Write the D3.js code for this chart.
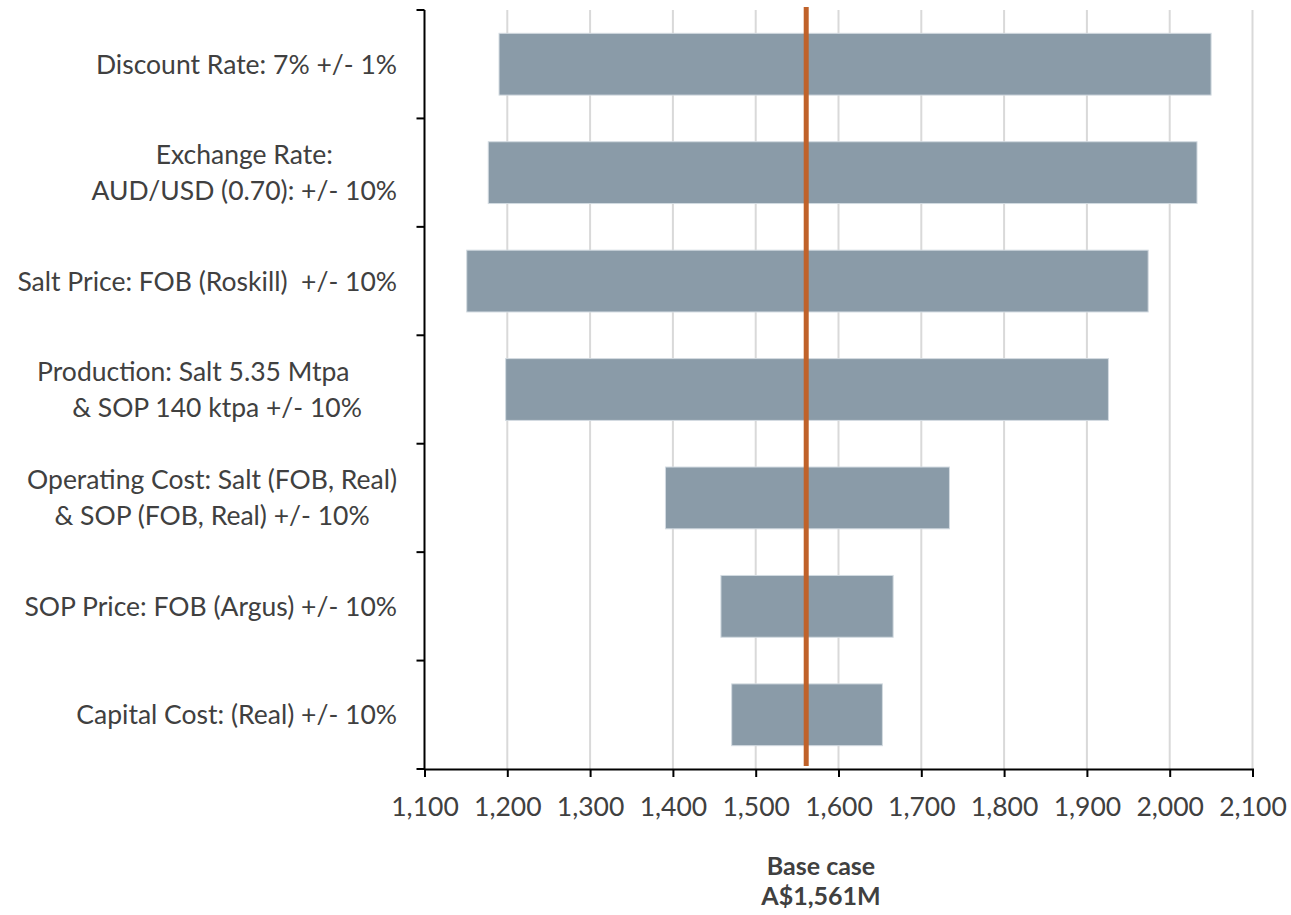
<!DOCTYPE html>
<html>
<head>
<meta charset="utf-8">
<script src="https://cdn.jsdelivr.net/npm/d3@7"></script>
<style>
  html, body { margin: 0; padding: 0; background: #fff; }
  svg { display: block; }
  text { font-family: Lato, "Open Sans", sans-serif; fill: #404040; }
</style>
</head>
<body>
<svg id="chart" width="1291" height="915"></svg>
<script>
// Sensitivity drivers, top to bottom (each entry is a list of label lines)
const categories = [
  ["Discount Rate: 7% +/- 1%"],
  ["Exchange Rate:", "AUD/USD (0.70): +/- 10%"],
  ["Salt Price: FOB (Roskill)  +/- 10%"],
  ["Production: Salt 5.35 Mtpa\u00a0\u00a0\u00a0\u00a0\u00a0\u00a0\u00a0", "& SOP 140 ktpa +/- 10%"],
  ["Operating Cost: Salt (FOB, Real)", "& SOP (FOB, Real) +/- 10%"],
  ["SOP Price: FOB (Argus) +/- 10%"],
  ["Capital Cost: (Real) +/- 10%"]
];
// NPV (A$M) at the low and high end of each driver range
const lowValues  = [1190, 1177, 1151, 1198, 1391, 1458, 1471];
const highValues = [2050, 2033, 1974, 1926, 1734, 1666, 1653];
const baseCase = 1561;
const xTicks = [1100, 1200, 1300, 1400, 1500, 1600, 1700, 1800, 1900, 2000, 2100];
const titleLines = ["Base case", "A$1,561M"];

const svg = d3.select("#chart");
const margin = { left: 424.5, right: 1252.5, top: 10, bottom: 769 };

const x = d3.scaleLinear().domain([1100, 2100]).range([margin.left, margin.right]);
const y = d3.scaleBand()
  .domain(d3.range(categories.length))
  .range([margin.top, margin.bottom])
  .paddingInner(0.43)
  .paddingOuter(0.215);

// vertical gridlines
svg.append("g")
  .selectAll("line")
  .data(xTicks.slice(1))
  .join("line")
  .attr("x1", d => x(d)).attr("x2", d => x(d))
  .attr("y1", margin.top).attr("y2", margin.bottom)
  .attr("stroke", "#d9d9d9")
  .attr("stroke-width", 2);

// range bars
const rows = categories.map((c, i) => ({ i, low: lowValues[i], high: highValues[i] }));
svg.append("g")
  .selectAll("rect")
  .data(rows)
  .join("rect")
  .attr("x", d => x(d.low))
  .attr("width", d => x(d.high) - x(d.low))
  .attr("y", d => y(d.i))
  .attr("height", y.bandwidth())
  .attr("fill", "#8a9ba8")
  .attr("stroke", "#d3dbe1")
  .attr("stroke-width", 1);

// base case marker
svg.append("line")
  .attr("x1", x(baseCase)).attr("x2", x(baseCase))
  .attr("y1", 7).attr("y2", margin.bottom - 3)
  .attr("stroke", "#c0622a")
  .attr("stroke-width", 5);

// x axis
const xAxis = svg.append("g")
  .attr("transform", `translate(0,${margin.bottom})`)
  .call(d3.axisBottom(x).tickValues(xTicks).tickSize(8).tickSizeOuter(8)
    .tickFormat(d3.format(",")));
xAxis.select(".domain").attr("stroke", "#000").attr("stroke-width", 2);
xAxis.selectAll(".tick line").attr("stroke", "#000").attr("stroke-width", 2);
xAxis.selectAll(".tick text")
  .attr("y", 47)
  .attr("dy", 0)
  .style("font-size", "26.5px")
  .style("fill", "#404040");

// y axis with ticks at category boundaries
const yAxisG = svg.append("g");
yAxisG.append("line")
  .attr("x1", margin.left).attr("x2", margin.left)
  .attr("y1", margin.top).attr("y2", margin.bottom)
  .attr("stroke", "#000").attr("stroke-width", 2);
yAxisG.selectAll("line.tk")
  .data(d3.range(categories.length + 1))
  .join("line")
  .attr("class", "tk")
  .attr("x1", margin.left - 8).attr("x2", margin.left)
  .attr("y1", i => margin.top + i * (margin.bottom - margin.top) / categories.length)
  .attr("y2", i => margin.top + i * (margin.bottom - margin.top) / categories.length)
  .attr("stroke", "#000").attr("stroke-width", 2);

// category labels: lines centred on each other, block right-aligned
const labelRight = 397;
const lineGap = 36;
const fontSize = 26.5;
const labels = svg.append("g");
rows.forEach(d => {
  const lines = categories[d.i];
  const g = labels.append("g");
  const cy = y(d.i) + y.bandwidth() / 2;
  const texts = lines.map((ln, k) =>
    g.append("text")
      .attr("xml:space", "preserve")
      .style("white-space", "pre")
      .style("font-size", fontSize + "px")
      .attr("y", cy + (k - (lines.length - 1) / 2) * lineGap + fontSize * 0.36)
      .text(ln));
  const maxW = d3.max(texts, t => t.node().getComputedTextLength());
  const cx = labelRight - maxW / 2;
  texts.forEach(t => t.attr("x", cx).attr("text-anchor", "middle"));
});

// base case caption
svg.append("g")
  .selectAll("text")
  .data(titleLines)
  .join("text")
  .attr("x", 821)
  .attr("y", (d, i) => 875 + i * 30)
  .attr("text-anchor", "middle")
  .style("font-size", "25px")
  .style("font-weight", "bold")
  .text(d => d);
</script>
</body>
</html>
